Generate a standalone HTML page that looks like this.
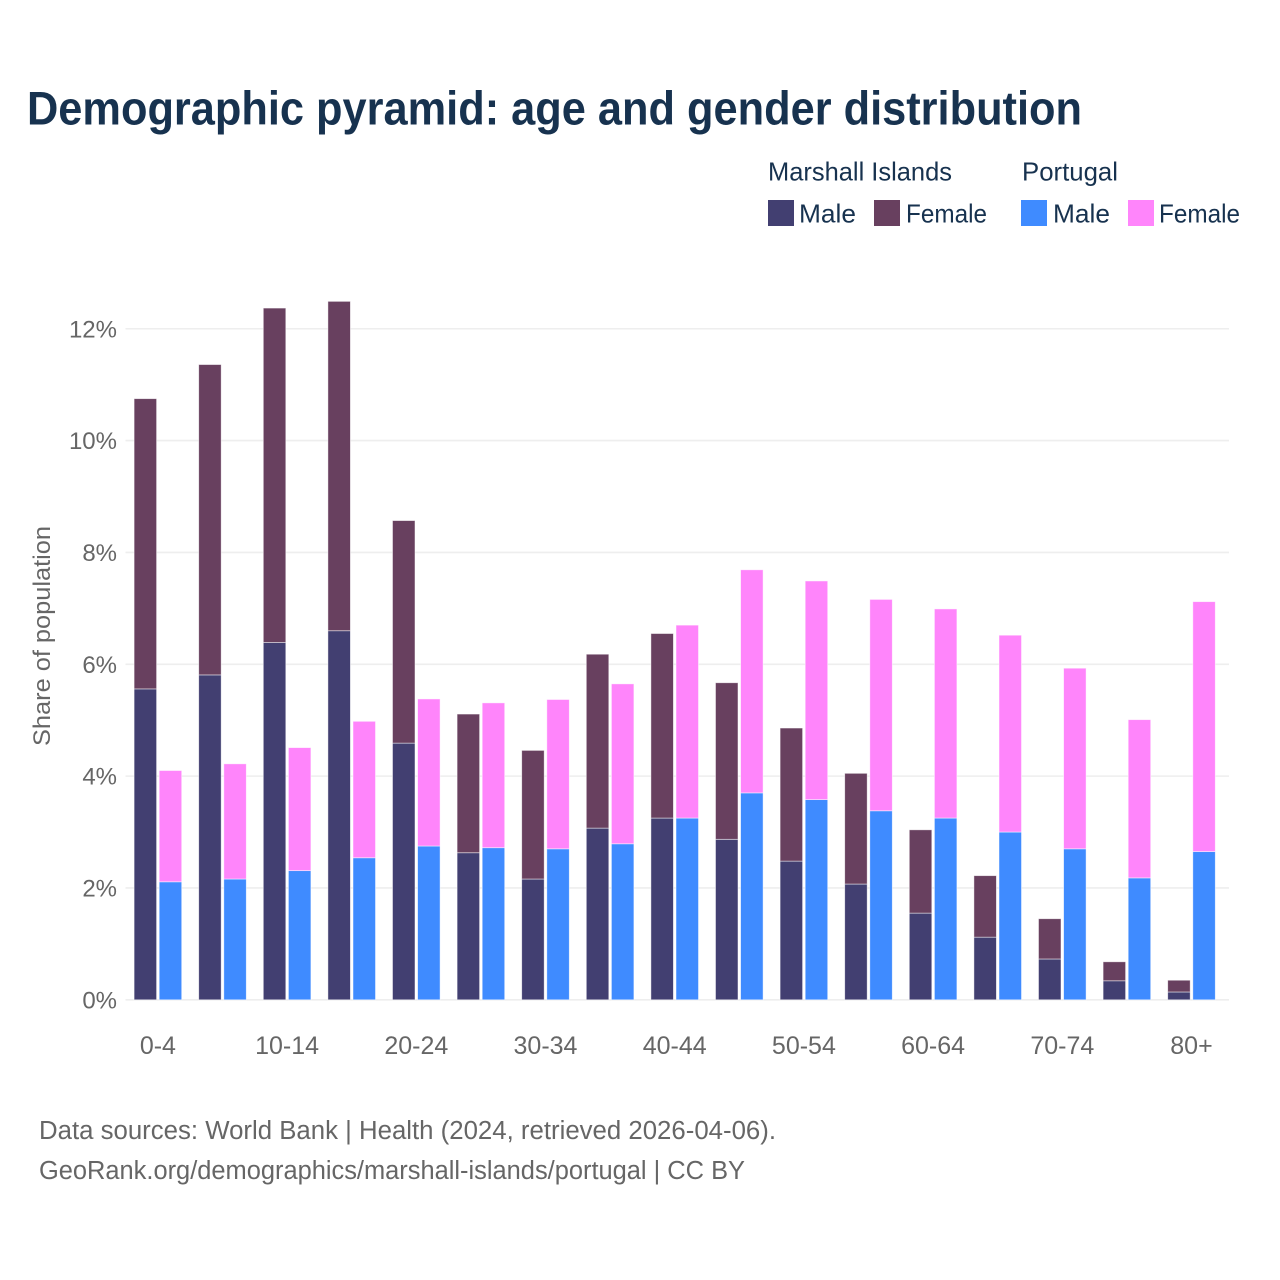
<!DOCTYPE html>
<html lang="en">
<head>
<meta charset="utf-8">
<title>Demographic pyramid</title>
<style>
html,body{margin:0;padding:0;background:#fff;width:1280px;height:1280px;overflow:hidden}
svg{display:block}
text{font-family:"Liberation Sans",sans-serif}
</style>
</head>
<body>
<svg id="chart" xmlns="http://www.w3.org/2000/svg" width="1280" height="1280" viewBox="0 0 1280 1280">
<rect width="1280" height="1280" fill="#fff"/>
<text x="27" y="124.5" font-size="47" font-weight="700" fill="#17324f" textLength="1055" lengthAdjust="spacingAndGlyphs">Demographic pyramid: age and gender distribution</text>
<g id="legend" font-size="26" fill="#17324f">
<text x="768" y="180.5" textLength="184" lengthAdjust="spacingAndGlyphs">Marshall Islands</text>
<text x="1022" y="180.5" textLength="96" lengthAdjust="spacingAndGlyphs">Portugal</text>
<rect x="768" y="200" width="26" height="26" fill="#423f71"/>
<text x="799" y="222.5" textLength="57" lengthAdjust="spacingAndGlyphs">Male</text>
<rect x="874" y="200" width="26" height="26" fill="#68405f"/>
<text x="906" y="222.5" textLength="81" lengthAdjust="spacingAndGlyphs">Female</text>
<rect x="1021" y="200" width="26" height="26" fill="#3f8bff"/>
<text x="1053" y="222.5" textLength="57" lengthAdjust="spacingAndGlyphs">Male</text>
<rect x="1128" y="200" width="26" height="26" fill="#ff85fb"/>
<text x="1159" y="222.5" textLength="81" lengthAdjust="spacingAndGlyphs">Female</text>
</g>
<g id="grid"></g>
<g id="y-axis"></g>
<g id="bars"></g>
<g id="x-axis"></g>
<text transform="translate(50,636) rotate(-90)" text-anchor="middle" font-size="24" fill="#666" textLength="220" lengthAdjust="spacingAndGlyphs">Share of population</text>
<text x="39" y="1139" font-size="25.5" fill="#666" textLength="737" lengthAdjust="spacingAndGlyphs">Data sources: World Bank | Health (2024, retrieved 2026-04-06).</text>
<text x="39" y="1179" font-size="25.5" fill="#666" textLength="706" lengthAdjust="spacingAndGlyphs">GeoRank.org/demographics/marshall-islands/portugal | CC BY</text>
</svg>
<script>
var categories = ["0-4","5-9","10-14","15-19","20-24","25-29","30-34","35-39","40-44","45-49","50-54","55-59","60-64","65-69","70-74","75-79","80+"];
var marshallMale = [5.56,5.81,6.39,6.60,4.59,2.63,2.16,3.07,3.25,2.87,2.48,2.07,1.55,1.12,0.73,0.34,0.14];
var marshallFemale = [5.19,5.55,5.98,5.89,3.98,2.48,2.30,3.11,3.30,2.80,2.38,1.98,1.49,1.10,0.72,0.34,0.21];
var portugalMale = [2.11,2.16,2.31,2.54,2.75,2.72,2.70,2.79,3.25,3.70,3.58,3.38,3.25,3.00,2.70,2.18,2.65];
var portugalFemale = [1.99,2.06,2.20,2.44,2.63,2.59,2.67,2.86,3.45,3.99,3.91,3.78,3.74,3.52,3.23,2.83,4.47];
var yTicks = [0,2,4,6,8,10,12];
var yTickLabels = ["0%","2%","4%","6%","8%","10%","12%"];

var NS = "http://www.w3.org/2000/svg";
function yScale(v){ return 999.8 - v * 55.92; }
function xCenter(i){ return 157.9 + i * 64.6; }
var BAR_W = 22.5;
var BAR_GAP = 1.3;

function make(tag, parent, attrs){
  var el = document.createElementNS(NS, tag);
  for (var k in attrs) el.setAttribute(k, attrs[k]);
  parent.appendChild(el);
  return el;
}

var gridG = document.getElementById("grid");
var yG = document.getElementById("y-axis");
var barsG = document.getElementById("bars");
var xG = document.getElementById("x-axis");

yTicks.forEach(function(t, i){
  var line = make("line", gridG, {x1:125.5, x2:1229, y1:yScale(t), y2:yScale(t), stroke:"#eeeeee", "stroke-width":1.6});
  
  
  var label = make("text", yG, {x:117, y:yScale(t)+8.5, "text-anchor":"end", "font-size":24, fill:"#666"});
  
  
  label.textContent = yTickLabels[i];
});

function drawBar(x, base, v, fill){
  var y1 = yScale(base), y2 = yScale(base + v);
  var r = make("rect", barsG, {x:x, y:y2, width:BAR_W, height:y1 - y2, fill:fill, stroke:"#ffffff", "stroke-opacity":0.6, "stroke-width":0.8});
  
  
}

categories.forEach(function(c, i){
  var cx = xCenter(i);
  var left = cx - BAR_GAP - BAR_W;
  var right = cx + BAR_GAP;
  drawBar(left, 0, marshallMale[i], "#423f71");
  drawBar(left, marshallMale[i], marshallFemale[i], "#68405f");
  drawBar(right, 0, portugalMale[i], "#3f8bff");
  drawBar(right, portugalMale[i], portugalFemale[i], "#ff85fb");
  if (i % 2 === 0) {
    var t = make("text", xG, {x:cx, y:1054, "text-anchor":"middle", "font-size":25, fill:"#666"});
    
    
    t.textContent = c;
  }
});
</script>
</body>
</html>
